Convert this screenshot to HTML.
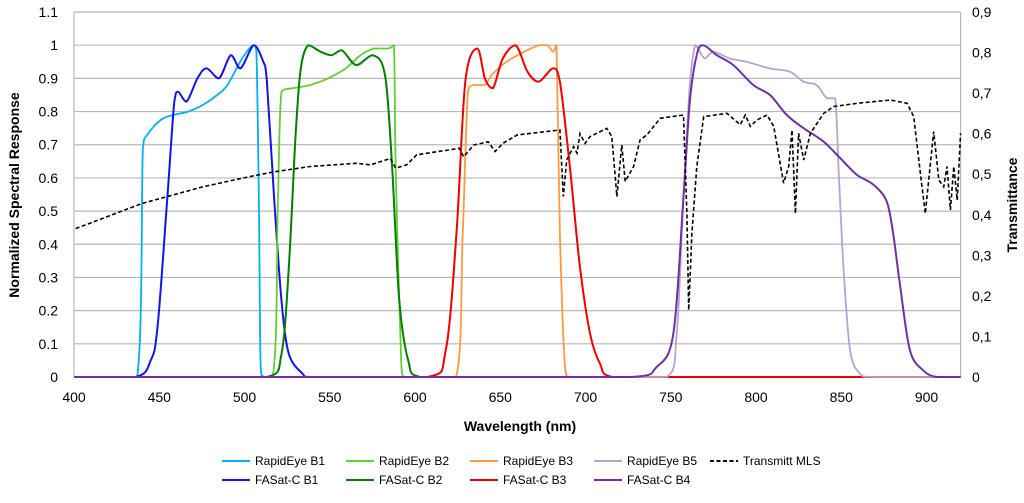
<!DOCTYPE html>
<html><head><meta charset="utf-8"><style>
body{margin:0;background:#fff;font-family:"Liberation Sans",sans-serif}
svg text{font-family:"Liberation Sans",sans-serif}
</style></head><body>
<svg id="chart" width="1024" height="498" viewBox="0 0 1024 498" xmlns="http://www.w3.org/2000/svg">
<g id="grid"></g>
<g id="series"></g>
<g id="axes"></g>
<text transform="translate(19,195) rotate(-90)" text-anchor="middle" font-size="14" font-weight="bold">Normalized Spectral Response</text>
<text transform="translate(1017,205) rotate(-90)" text-anchor="middle" font-size="14" font-weight="bold">Transmittance</text>
<text x="520" y="431" text-anchor="middle" font-size="14" font-weight="bold">Wavelength (nm)</text>
<g id="legend"></g>
</svg>
<script>
const xTicks=[400,450,500,550,600,650,700,750,800,850,900];
const yTicks=[0,0.1,0.2,0.3,0.4,0.5,0.6,0.7,0.8,0.9,1,1.1];
const y2Ticks=[0,0.1,0.2,0.3,0.4,0.5,0.6,0.7,0.8,0.9];
const y2Labels=["0","0,1","0,2","0,3","0,4","0,5","0,6","0,7","0,8","0,9"];
const rapidB1=[[400,0],[437,0],[440.4,0.69],[443,0.73],[452.5,0.78],[467,0.8],[475.6,0.82],[484,0.85],[490,0.88],[498.6,0.96],[505,1],[507,0.98],[508.5,0.5],[509.5,0.03],[512,0],[920,0]];
const fasatB1=[[400,0],[436,0],[445,0.05],[449,0.15],[454.6,0.53],[458.8,0.83],[461,0.86],[466,0.83],[472.4,0.9],[477.7,0.93],[485,0.9],[492,0.97],[497.6,0.93],[505.5,1],[511,0.95],[513,0.9],[517.5,0.53],[521.7,0.23],[526,0.07],[534,0.01],[538,0],[920,0]];
const rapidB2=[[400,0],[516.5,0],[519.6,0.53],[521.7,0.86],[528,0.87],[538.6,0.88],[549,0.9],[559.4,0.93],[568,0.97],[576,0.99],[584.5,0.99],[587.6,1],[588.7,0.63],[592,0.03],[594,0],[920,0]];
const fasatB2=[[400,0],[513,0],[521.7,0.07],[526,0.33],[530,0.73],[533,0.93],[537.4,1],[544.7,0.98],[551,0.97],[557,0.985],[565.6,0.94],[575,0.97],[582.4,0.91],[586.6,0.63],[590.8,0.23],[596,0.05],[603,0],[920,0]];
const rapidB3=[[400,0],[624,0],[628,0.43],[631,0.86],[634,0.88],[641,0.88],[645,0.91],[653.6,0.95],[664,0.98],[672.5,1],[677.8,1],[681,0.98],[683,1],[685,0.43],[688,0.03],[691,0],[920,0]];
const fasatB3=[[400,0],[607.5,0],[618,0.08],[624.3,0.43],[629.5,0.89],[636.5,0.99],[641,0.9],[645.7,0.87],[651.5,0.96],[659,1],[666,0.92],[672.5,0.89],[681,0.93],[685,0.89],[690.9,0.63],[696.8,0.33],[702.7,0.13],[708.5,0.04],[716,0],[920,0]];
const rapidB5=[[400,0],[747.6,0],[753.5,0.13],[757.3,0.53],[761.2,0.88],[764.2,1],[766,0.99],[770,0.96],[775,0.98],[784.7,0.96],[794.5,0.95],[808.2,0.93],[820,0.92],[827.8,0.89],[835.6,0.88],[841.5,0.84],[846.4,0.84],[848.4,0.63],[851.3,0.33],[855.2,0.08],[861,0.01],[869,0],[920,0]];
const fasatB4=[[400,0],[726,0],[741.7,0.03],[751.5,0.13],[757.3,0.53],[761.2,0.83],[765.2,0.97],[769,1],[777,0.97],[786.7,0.94],[798.4,0.88],[808.2,0.85],[818,0.79],[827.8,0.75],[839.5,0.71],[849.3,0.66],[859,0.61],[868.8,0.58],[876.6,0.53],[880.5,0.43],[884.4,0.28],[890.3,0.08],[898.1,0.02],[906,0],[920,0]];
const transmitt=[[401,0.366],[440,0.428],[475.6,0.469],[502.8,0.494],[517.5,0.506],[538.4,0.519],[565.6,0.527],[574,0.523],[585.5,0.539],[588.7,0.515],[595,0.523],[601,0.548],[626,0.564],[628.5,0.543],[634.5,0.572],[643,0.58],[647,0.556],[651.5,0.576],[660,0.597],[685,0.609],[687,0.445],[689,0.535],[693,0.568],[695,0.552],[696.8,0.6],[699.7,0.576],[702.7,0.593],[712.5,0.613],[715.4,0.593],[718.4,0.445],[721.3,0.572],[723.3,0.482],[728.2,0.519],[732,0.585],[736,0.597],[743.8,0.638],[757.5,0.646],[759.5,0.403],[760.5,0.165],[762.4,0.354],[765.3,0.519],[769.3,0.642],[783,0.65],[790.8,0.622],[793.7,0.646],[796.7,0.618],[800.6,0.634],[806.5,0.646],[810.4,0.618],[816.2,0.478],[819.2,0.519],[821.1,0.609],[823.1,0.403],[825,0.601],[828,0.535],[831.9,0.601],[839.7,0.65],[845.6,0.667],[859.3,0.675],[878.8,0.683],[888.6,0.675],[892.5,0.642],[896.4,0.502],[899.3,0.403],[901.3,0.486],[904.2,0.605],[907.2,0.486],[910.1,0.469],[912,0.519],[914,0.412],[916,0.519],[918,0.436],[920,0.601]];

const NS="http://www.w3.org/2000/svg";
const X0=74,PXNM=1.705,Y0=377,PXU=331.8;
function xs(nm){return X0+(nm-400)*PXNM;}
function ys(v){return Y0-v*PXU;}
function ys2(t){return Y0-t*(365/0.9);}
function mk(tag,attrs,parent){const e=document.createElementNS(NS,tag);for(const k in attrs)e.setAttribute(k,attrs[k]);parent.appendChild(e);return e;}
const grid=document.getElementById('grid'),axes=document.getElementById('axes'),ser=document.getElementById('series'),leg=document.getElementById('legend');
const XR=xs(920);
yTicks.forEach(v=>{
  const l=mk('line',{x1:X0,x2:XR,y1:ys(v),y2:ys(v),stroke:'#b8b8b8','stroke-width':1.2},grid);
  
  
  const t=mk('text',{x:58,y:ys(v)+5,'text-anchor':'end','font-size':14},axes);
  t.textContent=String(v);
  
  
});
const vb=mk('line',{x1:X0,x2:X0,y1:ys(1.1),y2:Y0,stroke:'#b8b8b8','stroke-width':1.2},grid);


const vr=mk('line',{x1:XR,x2:XR,y1:ys(1.1),y2:Y0,stroke:'#b8b8b8','stroke-width':1.2},grid);


y2Ticks.forEach((v,i)=>{
  const t=mk('text',{x:972,y:ys2(v)+5,'font-size':14},axes);
  t.textContent=y2Labels[i];
  
  
});
xTicks.forEach(v=>{
  const t=mk('text',{x:xs(v),y:402,'text-anchor':'middle','font-size':14},axes);
  t.textContent=String(v);
  
  
});
function path(data,f){return data.map((p,i)=>(i?'L':'M')+xs(p[0]).toFixed(1)+','+f(p[1]).toFixed(1)).join('');}
function smooth(data,f){
  const P=data.map(p=>[xs(p[0]),f(p[1])]);
  let d='M'+P[0][0].toFixed(1)+','+P[0][1].toFixed(1);
  const k=0.16;
  for(let i=0;i<P.length-1;i++){
    const p0=P[Math.max(0,i-1)],p1=P[i],p2=P[i+1],p3=P[Math.min(P.length-1,i+2)];
    let c1x=p1[0]+(p2[0]-p0[0])*k,c1y=p1[1]+(p2[1]-p0[1])*k;
    let c2x=p2[0]-(p3[0]-p1[0])*k,c2y=p2[1]-(p3[1]-p1[1])*k;
    c1x=Math.min(Math.max(c1x,p1[0]),p2[0]);c2x=Math.min(Math.max(c2x,p1[0]),p2[0]);
    const lo=Math.min(p1[1],p2[1]),hi=Math.max(p1[1],p2[1]);
    c1y=Math.min(Math.max(c1y,lo),hi);c2y=Math.min(Math.max(c2y,lo),hi);
    d+='C'+c1x.toFixed(1)+','+c1y.toFixed(1)+' '+c2x.toFixed(1)+','+c2y.toFixed(1)+' '+p2[0].toFixed(1)+','+p2[1].toFixed(1);
  }
  return d;
}
const list=[
 [rapidB1,'#00b0f0','rapideye-b1',1.8],[fasatB1,'#1414e6','fasat-c-b1',2],
 [rapidB2,'#66cc33','rapideye-b2',1.8],[fasatB2,'#008000','fasat-c-b2',2],
 [rapidB3,'#ff9a40','rapideye-b3',1.8],[fasatB3,'#ee0000','fasat-c-b3',2],
 [rapidB5,'#b7a2d2','rapideye-b5',1.8],[fasatB4,'#7030a0','fasat-c-b4',2]];
list.forEach(s=>{
  const p=mk('path',{d:smooth(s[0],ys),fill:'none',stroke:s[1],'stroke-width':s[3],'stroke-linejoin':'round'},ser);
  
  
});
const tp=mk('path',{d:path(transmitt,ys2),fill:'none',stroke:'#000','stroke-width':1.6,'stroke-dasharray':'4,2.5'},ser);


const legItems=[
 ['RapidEye B1','#00b0f0',222,465,0],['RapidEye B2','#66cc33',346,465,0],['RapidEye B3','#ff9a40',470,465,0],['RapidEye B5','#b7a2d2',594,465,0],['Transmitt MLS','#000',710,465,1],
 ['FASat-C B1','#1414e6',222,484,0],['FASat-C B2','#008000',346,484,0],['FASat-C B3','#ee0000',470,484,0],['FASat-C B4','#7030a0',594,484,0]];
legItems.forEach(it=>{
  const g=mk('g',{},leg);
  
  
  const a={x1:it[2],x2:it[2]+28,y1:it[3]-4,y2:it[3]-4,stroke:it[1],'stroke-width':2};
  if(it[4])a['stroke-dasharray']='4,2.5';
  mk('line',a,g);
  const t=mk('text',{x:it[2]+33,y:it[3],'font-size':12},g);
  t.textContent=it[0];
});
</script>
</body></html>
